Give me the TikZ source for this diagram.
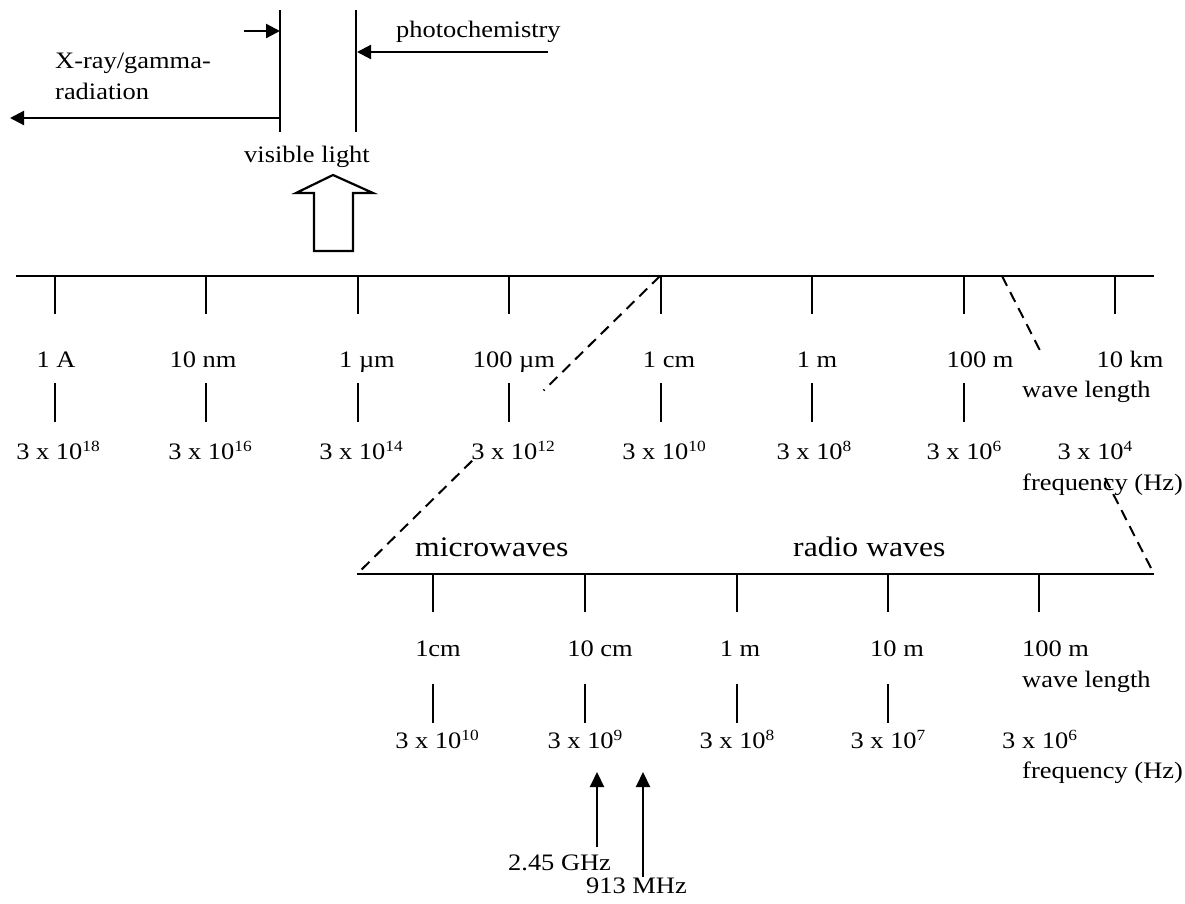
\documentclass[tikz,border=0pt]{standalone}
\usepackage{fontspec}
\setmainfont{Liberation Serif}[FakeStretch=1.12]
\usetikzlibrary{arrows.meta,calc}
\newcommand\supr[1]{\raisebox{7.5pt}{\fontsize{15.5}{16}\selectfont #1}}
\begin{document}
\begin{tikzpicture}[x=1pt,y=-1pt,
  lbl/.style={inner sep=0pt, anchor=base, font=\fontsize{23.6}{26}\selectfont},
  lbll/.style={lbl, anchor=base west},
  bigl/.style={inner sep=0pt, anchor=base west, font=\fontsize{28.3}{32}\selectfont},
  axisln/.style={line width=2.2pt},
  tickln/.style={line width=2pt},
  arr/.style={line width=2.2pt, -{Triangle[length=14pt,width=14pt]}},
  arrb/.style={line width=2.2pt, -{Triangle[length=15pt,width=14pt]}},
  dashln/.style={line width=2pt, dash pattern=on 11pt off 7pt}]
\path[use as bounding box, fill=white] (0,0) rectangle (1185,903);

% ---------- top part ----------
\coordinate (v1t) at (280,10); \coordinate (v1b) at (280,132);
\coordinate (v2t) at (356,10); \coordinate (v2b) at (356,132);
\draw[line width=2.2pt] (v1t) -- (v1b);
\draw[line width=2.2pt] (v2t) -- (v2b);
\coordinate (a1s) at (244,31); \coordinate (a1e) at (280,31);
\draw[arr] (a1s) -- (a1e);
\coordinate (xs) at (280,118); \coordinate (xe) at (10,118);
\draw[arr] (xs) -- (xe);
\coordinate (ps) at (548,52); \coordinate (pe) at (357,52);
\draw[arr] (ps) -- (pe);
\node[lbll] (xray1) at (55,68) {X-ray/gamma-};
\node[lbll] (xray2) at (55,99) {radiation};
\node[lbll] (photo) at (396,37) {photochemistry};
\node[lbl] (vis) at (307,162) {visible light};
% hollow arrow
\draw[line width=2.2pt, line join=miter] (314,251) -- (353,251) -- (353,193) -- (373,193)
  -- (333,175) -- (296,193) -- (314,193) -- cycle;

% ---------- main scale ----------
\coordinate (mL) at (16,276); \coordinate (mR) at (1154,276);
\draw[axisln] (mL) -- (mR);
\foreach \x [count=\i] in {55,206,358,509,661,812,964,1115} {
  \coordinate (t\i a) at (\x,276); \coordinate (t\i b) at (\x,314);
  \draw[tickln] (t\i a) -- (t\i b);
}
\foreach \x [count=\i] in {55,206,358,509,661,812,964} {
  \coordinate (u\i a) at (\x,383); \coordinate (u\i b) at (\x,422);
  \draw[tickln] (u\i a) -- (u\i b);
}
\node[lbl] (w1) at (56,367) {1 A};
\node[lbl] (w2) at (203,367) {10 nm};
\node[lbl] (w3) at (367,367) {1 µm};
\node[lbl] (w4) at (514,367) {100 µm};
\node[lbl] (w5) at (669,367) {1 cm};
\node[lbl] (w6) at (817,367) {1 m};
\node[lbl] (w7) at (980,367) {100 m};
\node[lbl] (w8) at (1130,367) {10 km};
\node[lbll] (wl) at (1022,397) {wave length};
\node[lbl] (f1) at (58,459) {3 x 10\supr{18}};
\node[lbl] (f2) at (210,459) {3 x 10\supr{16}};
\node[lbl] (f3) at (361,459) {3 x 10\supr{14}};
\node[lbl] (f4) at (513,459) {3 x 10\supr{12}};
\node[lbl] (f5) at (664,459) {3 x 10\supr{10}};
\node[lbl] (f6) at (814,459) {3 x 10\supr{8}};
\node[lbl] (f7) at (964,459) {3 x 10\supr{6}};
\node[lbl] (f8) at (1095,459) {3 x 10\supr{4}};
\node[lbll] (fl) at (1022,490) {frequency (Hz)};

% ---------- zoom lines ----------
\coordinate (dA) at (660,276); \coordinate (dB) at (357,574);
\draw[dashln] (dA) -- ($(dA)!0.384!(dB)$);
\draw[dashln] ($(dA)!0.62!(dB)$) -- (dB);
\coordinate (dC) at (1002,276); \coordinate (dD) at (1154,574);
\draw[dashln] (dC) -- ($(dC)!0.255!(dD)$);
\draw[dashln] ($(dC)!0.678!(dD)$) -- (dD);

% ---------- lower scale ----------
\coordinate (lL) at (357,574); \coordinate (lR) at (1154,574);
\draw[axisln] (lL) -- (lR);
\node[bigl] (mw) at (415,556) {microwaves};
\node[bigl] (rw) at (793,556) {radio waves};
\foreach \x [count=\i] in {433,585,737,888,1039} {
  \coordinate (s\i a) at (\x,574); \coordinate (s\i b) at (\x,612);
  \draw[tickln] (s\i a) -- (s\i b);
}
\foreach \x [count=\i] in {433,585,737,888} {
  \coordinate (r\i a) at (\x,684); \coordinate (r\i b) at (\x,723);
  \draw[tickln] (r\i a) -- (r\i b);
}
\node[lbl] (lw1) at (438,656) {1cm};
\node[lbl] (lw2) at (600,656) {10 cm};
\node[lbl] (lw3) at (740,656) {1 m};
\node[lbl] (lw4) at (897,656) {10 m};
\node[lbll] (lw5) at (1022,656) {100 m};
\node[lbll] (lwl) at (1022,687) {wave length};
\node[lbl] (lf1) at (437,748) {3 x 10\supr{10}};
\node[lbl] (lf2) at (585,748) {3 x 10\supr{9}};
\node[lbl] (lf3) at (737,748) {3 x 10\supr{8}};
\node[lbl] (lf4) at (888,748) {3 x 10\supr{7}};
\node[lbll] (lf5) at (1002,748) {3 x 10\supr{6}};
\node[lbll] (lfl) at (1022,778) {frequency (Hz)};

% ---------- marker arrows ----------
\node[lbll] (g245) at (508,870) {2.45 GHz};
\node[lbll] (m913) at (586,893) {913 MHz};
\coordinate (b1s) at (597,847); \coordinate (b1e) at (597,772);
\coordinate (b2s) at (643,877); \coordinate (b2e) at (643,772);
\draw[arrb] (b1s) -- (b1e);
\draw[arrb] (b2s) -- (b2e);
\end{tikzpicture}
\end{document}
